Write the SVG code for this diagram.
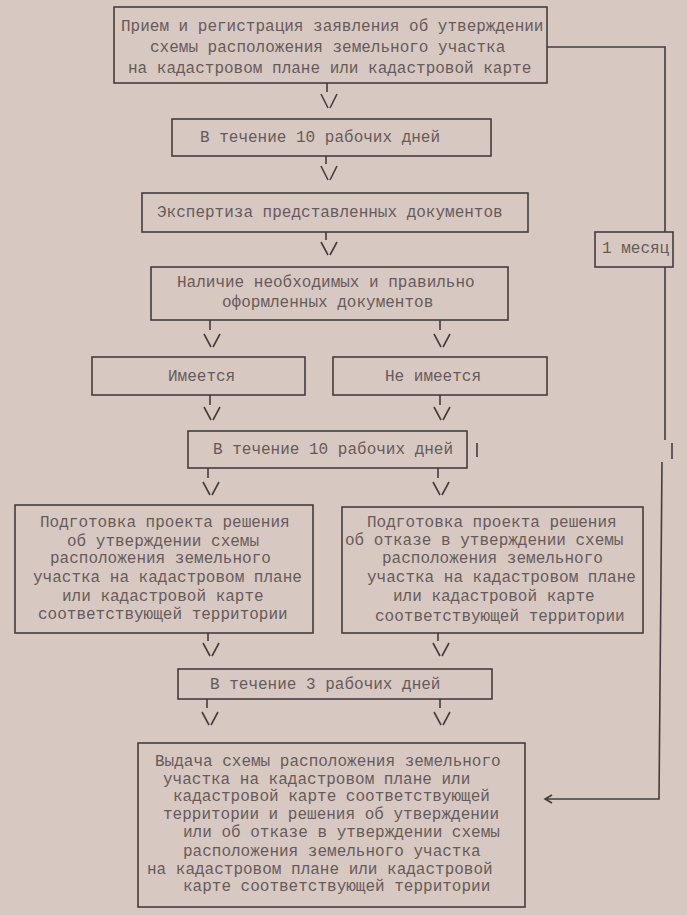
<svg xmlns="http://www.w3.org/2000/svg" width="687" height="915" viewBox="0 0 687 915">
<style>
.bg{fill:#d7c8c1}
.box{fill:#d7c8c1;stroke:#453d3d;stroke-width:1.6}
.t{font-family:"Liberation Mono","DejaVu Sans Mono",monospace;font-size:16px;fill:#665b5a}
.c{fill:none;stroke:#453d3d;stroke-width:1.6}
</style>
<rect class="bg" x="0" y="0" width="687" height="915"/>
<g id="connectors" class="c">
  <path d="M327 83 V92 M321 94 L328 108 M330 108 L337 94"/>
  <path d="M326 156 V164 M321 166 L328 180 M330 180 L337 166"/>
  <path d="M326 232 V240 M321 242 L328 255 M330 255 L337 242"/>
  <path d="M210 320 V330 M204 334 L211 347 M213 347 L220 334"/>
  <path d="M440 320 V330 M434 334 L441 347 M443 347 L450 334"/>
  <path d="M210 395 V405 M204 407 L211 420 M213 420 L220 407"/>
  <path d="M440 395 V405 M434 407 L441 420 M443 420 L450 407"/>
  <path d="M208 468 V478 M203 482 L210 495 M212 495 L219 482"/>
  <path d="M438 468 V478 M433 482 L440 495 M442 495 L449 482"/>
  <path d="M208 633 V641 M203 643 L210 656 M212 656 L219 643"/>
  <path d="M438 633 V641 M433 643 L440 656 M442 656 L449 643"/>
  <path d="M207 699 V708 M202 712 L209 725 M211 725 L218 712"/>
  <path d="M440 699 V708 M434 712 L441 725 M443 725 L450 712"/>
  <path d="M547 47 H665 V440 M672 443 V459 M662 462 L659 799 H545 M552 795 L545 799 L552 803"/>
</g>
<g id="label-month">
  <rect class="box" x="595" y="232" width="78" height="35"/>
  <text class="t" x="602" y="253">1 месяц</text>
</g>
<g id="n1">
  <rect class="box" x="114" y="7" width="433" height="76"/>
  <text class="t" x="121" y="31">Прием и регистрация заявления об утверждении</text>
  <text class="t" x="150" y="52">схемы расположения земельного участка</text>
  <text class="t" x="128" y="73">на кадастровом плане или кадастровой карте</text>
</g>
<g id="n2">
  <rect class="box" x="172" y="119" width="319" height="37"/>
  <text class="t" x="200" y="142">В течение 10 рабочих дней</text>
</g>
<g id="n3">
  <rect class="box" x="142" y="193" width="386" height="39"/>
  <text class="t" x="157" y="217">Экспертиза представленных документов</text>
</g>
<g id="n4">
  <rect class="box" x="151" y="267" width="357" height="53"/>
  <text class="t" x="177" y="287">Наличие необходимых и правильно</text>
  <text class="t" x="222" y="307">оформленных документов</text>
</g>
<g id="n5">
  <rect class="box" x="92" y="357" width="213" height="38"/>
  <text class="t" x="168" y="381">Имеется</text>
</g>
<g id="n6">
  <rect class="box" x="333" y="357" width="214" height="38"/>
  <text class="t" x="385" y="381">Не имеется</text>
</g>
<g id="n7">
  <rect class="box" x="188" y="431" width="279" height="37"/>
  <text class="t" x="213" y="454">В течение 10 рабочих дней</text>
  <path class="c" d="M477 443 V457"/>
</g>
<g id="n8">
  <rect class="box" x="15" y="505" width="298" height="128"/>
  <text class="t" x="40" y="527">Подготовка проекта решения</text>
  <text class="t" x="67" y="546">об утверждении схемы</text>
  <text class="t" x="50" y="563">расположения земельного</text>
  <text class="t" x="33" y="582">участка на кадастровом плане</text>
  <text class="t" x="62" y="601">или кадастровой карте</text>
  <text class="t" x="38" y="619">соответствующей территории</text>
</g>
<g id="n9">
  <rect class="box" x="342" y="507" width="301" height="126"/>
  <text class="t" x="367" y="527">Подготовка проекта решения</text>
  <text class="t" x="345" y="545">об отказе в утверждении схемы</text>
  <text class="t" x="382" y="563">расположения земельного</text>
  <text class="t" x="367" y="582">участка на кадастровом плане</text>
  <text class="t" x="393" y="601">или кадастровой карте</text>
  <text class="t" x="375" y="621">соответствующей территории</text>
</g>
<g id="n10">
  <rect class="box" x="178" y="669" width="314" height="30"/>
  <text class="t" x="210" y="689">В течение 3 рабочих дней</text>
</g>
<g id="n11">
  <rect class="box" x="138" y="743" width="387" height="164"/>
  <text class="t" x="155" y="766">Выдача схемы расположения земельного</text>
  <text class="t" x="163" y="784">участка на кадастровом плане или</text>
  <text class="t" x="173" y="801">кадастровой карте соответствующей</text>
  <text class="t" x="163" y="819">территории и решения об утверждении</text>
  <text class="t" x="183" y="837">или об отказе в утверждении схемы</text>
  <text class="t" x="183" y="856">расположения земельного участка</text>
  <text class="t" x="147" y="874">на кадастровом плане или кадастровой</text>
  <text class="t" x="183" y="891">карте соответствующей территории</text>
</g>
</svg>
